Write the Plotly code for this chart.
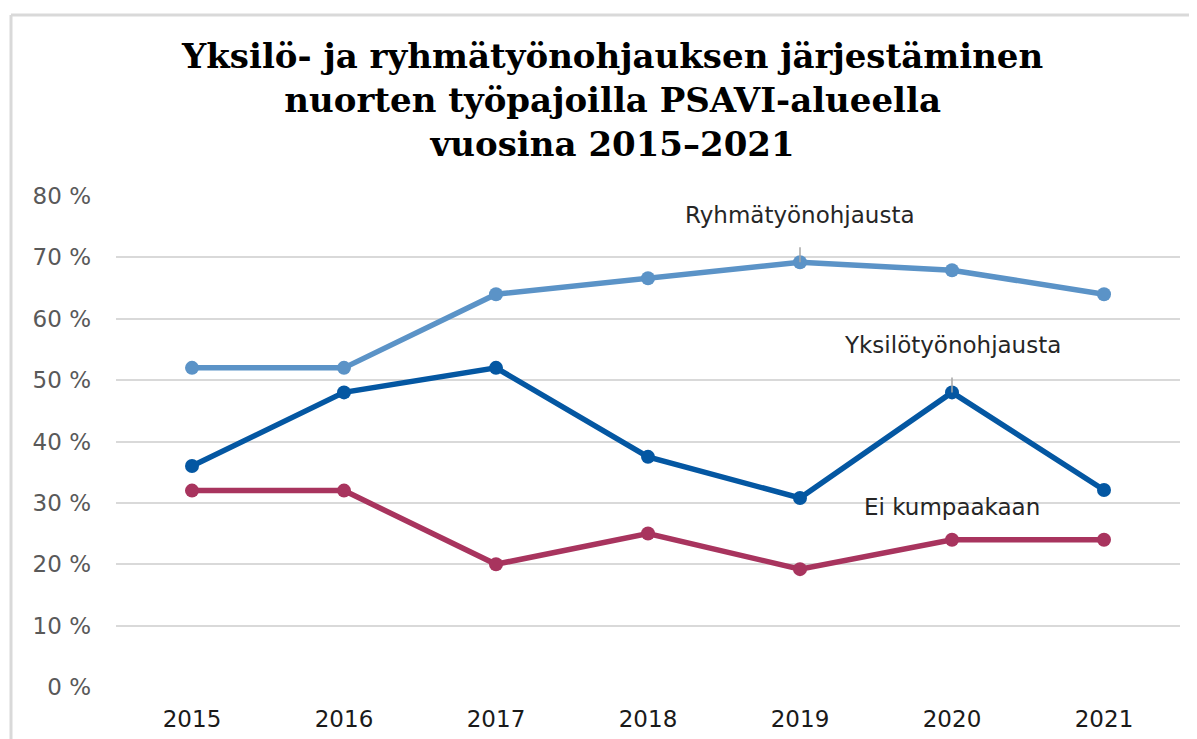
import plotly.graph_objects as go

years = ["2015", "2016", "2017", "2018", "2019", "2020", "2021"]
ryhma = [52, 52, 64, 66.6, 69.2, 67.9, 64]
yksilo = [36, 48, 52, 37.5, 30.8, 48, 32.1]
ei = [32, 32, 20, 25, 19.2, 24, 24]
y_ticks = [0, 10, 20, 30, 40, 50, 60, 70, 80]
y_tick_labels = ["0 %", "10 %", "20 %", "30 %", "40 %", "50 %", "60 %", "70 %", "80 %"]

W, H = 1197, 739
OFF = 8  # page body margin
L, R, T, B = 108, 25, 188, 60
pw, ph = W - L - R, H - T - B

def px(x):
    return (x - OFF - L) / pw

def py(y):
    return (H - B - (y - OFF)) / ph

fig = go.Figure()
series = [
    ("Ryhmätyönohjausta", ryhma, "#5B93C7"),
    ("Yksilötyönohjausta", yksilo, "#0457A2"),
    ("Ei kumpaakaan", ei, "#A8345E"),
]
for name, vals, col in series:
    fig.add_trace(go.Scatter(
        x=years, y=vals, name=name, mode="lines+markers",
        line=dict(color=col, width=5.5),
        marker=dict(color=col, size=14),
        showlegend=False,
    ))

lab_font = dict(family="DejaVu Sans", size=23, color="#262626")
fig.add_annotation(x=px(800), y=py(215), xref="paper", yref="paper", text="Ryhmätyönohjausta",
                   showarrow=False, font=lab_font, xanchor="center", yanchor="middle")
fig.add_annotation(x=px(952), y=py(345), xref="paper", yref="paper", text="Yksilötyönohjausta",
                   showarrow=False, font=lab_font, xanchor="center", yanchor="middle")
fig.add_annotation(x=px(952), y=py(507), xref="paper", yref="paper", text="Ei kumpaakaan",
                   showarrow=False, font=lab_font, xanchor="center", yanchor="middle")

# leader lines from labels to their points (about 15 px tall)
LEAD = 15 * 80 / ph
for xi, vals in ((4, ryhma), (5, yksilo)):
    fig.add_shape(type="line", xref="x", yref="y", x0=xi, x1=xi,
                  y0=vals[xi], y1=vals[xi] + LEAD, layer="above",
                  line=dict(color="#a6a6a6", width=1.5))

# Title
fig.add_annotation(x=px(612), y=py(100), xref="paper", yref="paper",
                   text="<b>Yksilö- ja ryhmätyönohjauksen järjestäminen<br>nuorten työpajoilla PSAVI-alueella<br>vuosina 2015–2021</b>",
                   showarrow=False, xanchor="center", yanchor="middle", align="center",
                   font=dict(family="DejaVu Serif", size=34, color="#000000"))

# Border of chart area (top and left visible)
fig.add_shape(type="line", xref="paper", yref="paper", x0=px(11), x1=px(1210), y0=py(15), y1=py(15),
              line=dict(color="#d9d9d9", width=3))
fig.add_shape(type="line", xref="paper", yref="paper", x0=px(11), x1=px(11), y0=py(15), y1=py(760),
              line=dict(color="#d9d9d9", width=3))

fig.update_layout(
    width=W, height=H,
    margin=dict(l=L, r=R, t=T, b=B),
    paper_bgcolor="white", plot_bgcolor="white",
    xaxis=dict(type="category", range=[-0.5, 6.5], showgrid=False, showline=False, ticks="",
               ticklabelstandoff=16,
               tickfont=dict(family="DejaVu Sans", size=23, color="#1a1a1a")),
    yaxis=dict(range=[0, 80], tickvals=y_ticks, ticktext=y_tick_labels, showgrid=True,
               gridcolor="#d9d9d9", gridwidth=2, zeroline=False, showline=False, ticks="",
               ticklabelstandoff=24,
               tickfont=dict(family="DejaVu Sans", size=23, color="#595959")),
)

fig.write_html("out.html")
